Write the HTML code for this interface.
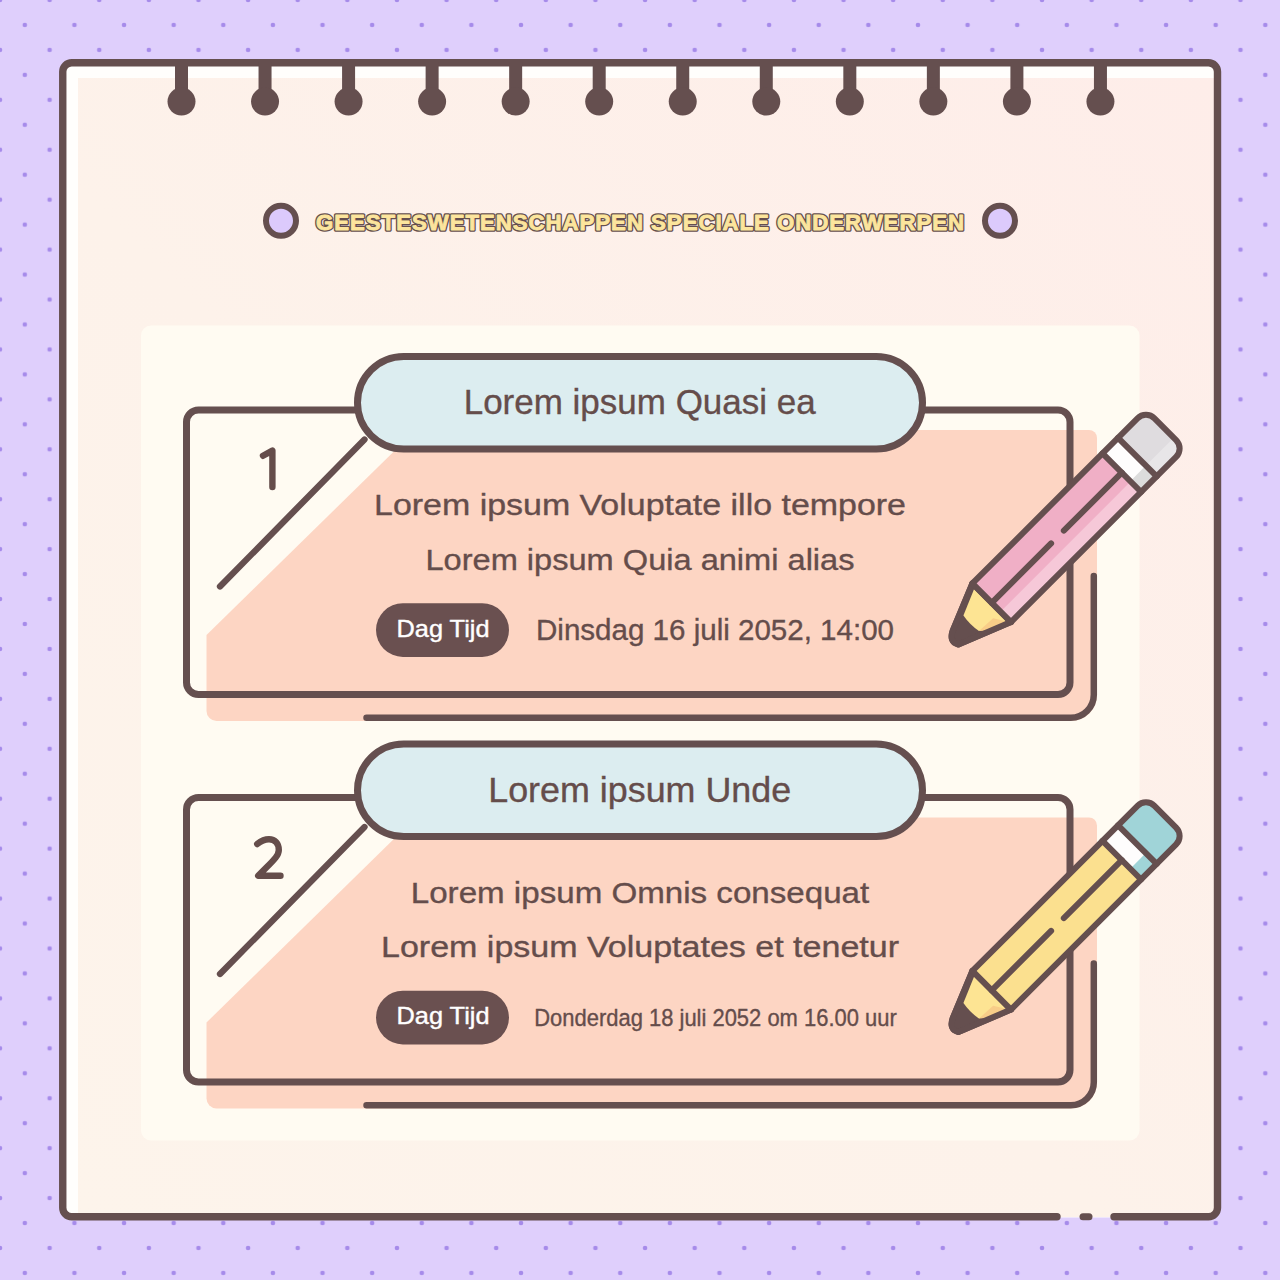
<!DOCTYPE html>
<html><head><meta charset="utf-8"><style>
html,body{margin:0;padding:0;width:1280px;height:1280px;overflow:hidden;background:#dfcffc;}
svg{display:block;font-family:"Liberation Sans",sans-serif;}
</style></head><body>
<svg width="1280" height="1280" viewBox="0 0 1280 1280">
<defs>
<pattern id="dots" patternUnits="userSpaceOnUse" width="49.62" height="49.92">
<circle cx="0" cy="0" r="2.3" fill="#a68bea"/><circle cx="49.62" cy="0" r="2.3" fill="#a68bea"/>
<circle cx="0" cy="49.92" r="2.3" fill="#a68bea"/><circle cx="49.62" cy="49.92" r="2.3" fill="#a68bea"/>
<circle cx="24.81" cy="24.96" r="2.3" fill="#a68bea"/>
</pattern>
<linearGradient id="paper" x1="0" y1="1" x2="1" y2="0"><stop offset="0" stop-color="#fdf4eb"/><stop offset="0.45" stop-color="#fdf2ea"/><stop offset="1" stop-color="#feede9"/></linearGradient>
</defs>
<rect width="1280" height="1280" fill="#dfcffc"/>
<rect width="1280" height="1280" fill="url(#dots)"/>
<rect x="62.5" y="62.5" width="1155" height="1155" rx="9" fill="#fffefc"/>
<rect x="78" y="78" width="1139" height="1139" fill="url(#paper)"/>
<path d="M 1057 1216.8 H 71.75 A 9 9 0 0 1 62.75 1207.8 V 71.75 A 9 9 0 0 1 71.75 62.75 H 1208.5 A 9 9 0 0 1 1217.5 71.75 V 1207.8 A 9 9 0 0 1 1208.5 1216.8 H 1114" fill="none" stroke="#654f4f" stroke-width="7.4" stroke-linecap="round"/>
<path d="M 1083 1216.8 H 1089" stroke="#654f4f" stroke-width="7" stroke-linecap="round"/>
<g fill="#654f4f"><rect x="175.00" y="62" width="13" height="40"/><circle cx="181.50" cy="101.6" r="14"/><rect x="258.54" y="62" width="13" height="40"/><circle cx="265.04" cy="101.6" r="14"/><rect x="342.08" y="62" width="13" height="40"/><circle cx="348.58" cy="101.6" r="14"/><rect x="425.62" y="62" width="13" height="40"/><circle cx="432.12" cy="101.6" r="14"/><rect x="509.16" y="62" width="13" height="40"/><circle cx="515.66" cy="101.6" r="14"/><rect x="592.70" y="62" width="13" height="40"/><circle cx="599.20" cy="101.6" r="14"/><rect x="676.24" y="62" width="13" height="40"/><circle cx="682.74" cy="101.6" r="14"/><rect x="759.78" y="62" width="13" height="40"/><circle cx="766.28" cy="101.6" r="14"/><rect x="843.32" y="62" width="13" height="40"/><circle cx="849.82" cy="101.6" r="14"/><rect x="926.86" y="62" width="13" height="40"/><circle cx="933.36" cy="101.6" r="14"/><rect x="1010.40" y="62" width="13" height="40"/><circle cx="1016.90" cy="101.6" r="14"/><rect x="1093.94" y="62" width="13" height="40"/><circle cx="1100.44" cy="101.6" r="14"/></g>
<circle cx="281" cy="220.8" r="15" fill="#dccafc" stroke="#654f4f" stroke-width="6"/>
<circle cx="1000" cy="220.8" r="15" fill="#dccafc" stroke="#654f4f" stroke-width="6"/>
<text id="title0" x="640" y="229.6" font-size="22.2" text-anchor="middle" fill="#fce59d" textLength="648" lengthAdjust="spacing" font-weight="bold" stroke="#654f4f" stroke-width="3.6" stroke-linejoin="round">GEESTESWETENSCHAPPEN SPECIALE ONDERWERPEN</text>
<text id="title" x="640" y="229.6" font-size="22.2" text-anchor="middle" fill="#fce59d" textLength="648" lengthAdjust="spacing" font-weight="bold" stroke="#fce59d" stroke-width="0.9" stroke-linejoin="round">GEESTESWETENSCHAPPEN SPECIALE ONDERWERPEN</text>
<rect x="141" y="325.5" width="998.5" height="815" rx="10" fill="#fffbf2"/>
<g transform="translate(0 0)">
<path d="M 206.5 635 L 415.8 430 H 1089 A 8 8 0 0 1 1097 438 V 695 A 26 26 0 0 1 1071 721 H 216.5 A 10 10 0 0 1 206.5 711 Z" fill="#fdd5c3"/>
<rect x="186.5" y="410" width="883.5" height="284.5" rx="12" fill="none" stroke="#654f4f" stroke-width="7"/>
<path d="M 366.5 717.8 H 1070.8 A 23 23 0 0 0 1093.8 694.8 V 576" fill="none" stroke="#654f4f" stroke-width="6.5" stroke-linecap="round"/>
<path d="M 220 586.5 L 364.5 439.5" fill="none" stroke="#654f4f" stroke-width="6.3" stroke-linecap="round"/>
<rect x="357.5" y="356.5" width="565" height="92.5" rx="46.25" fill="#dcedf0" stroke="#654f4f" stroke-width="7"/>
<path id="n1" d="M 263 455.8 L 272.4 450.6 V 487" fill="none" stroke="#654d4b" stroke-width="6.4" stroke-linecap="round" stroke-linejoin="round"/>
<text id="p1" x="639.7" y="414.2" font-size="35" text-anchor="middle" fill="#654d4b" stroke="#654d4b" stroke-width="0.35" textLength="352" lengthAdjust="spacingAndGlyphs">Lorem ipsum Quasi ea</text>
<text id="a1" x="640" y="515" font-size="30" text-anchor="middle" fill="#654d4b" stroke="#654d4b" stroke-width="0.35" textLength="532" lengthAdjust="spacingAndGlyphs">Lorem ipsum Voluptate illo tempore</text>
<text id="b1" x="640" y="569.7" font-size="30" text-anchor="middle" fill="#654d4b" stroke="#654d4b" stroke-width="0.35" textLength="429" lengthAdjust="spacingAndGlyphs">Lorem ipsum Quia animi alias</text>
<rect x="376" y="603.3" width="133" height="53.6" rx="26.8" fill="#6a5050"/>
<text id="d1" x="443" y="636.6" font-size="24.5" text-anchor="middle" fill="#ffffff" stroke="#ffffff" stroke-width="0.4" textLength="93" lengthAdjust="spacingAndGlyphs">Dag Tijd</text>
<text id="t1" x="715" y="639.8" font-size="29" text-anchor="middle" fill="#654d4b" stroke="#654d4b" stroke-width="0.35" textLength="358" lengthAdjust="spacingAndGlyphs">Dinsdag 16 juli 2052, 14:00</text>
<g transform="translate(991.7 602.8) rotate(-45)">
<path d="M 0 -27.3 L -47 -8 Q -58 -3 -53 6 L 0 27.3 Z" fill="#654f4f" stroke="#654f4f" stroke-width="6" stroke-linejoin="round"/>
<path d="M -3 -22 L -29 -11 Q -31 0 -29 11 L -3 23 Z" fill="#fde493"/>
<path d="M -10 12 L -29 11 L -20 19 L -3 23 Z" fill="#f8cd88"/>
<rect x="0" y="-27.3" width="184" height="54.6" fill="#f0afc6"/>
<rect x="0" y="12.5" width="184" height="14.8" fill="#f6c8d8"/>
<rect x="184" y="-27.3" width="22" height="54.6" fill="#fefdfd"/>
<rect x="184" y="12" width="22" height="15.3" fill="#dcdcdc"/>
<path d="M 206 -27.3 H 233.5 A 12 12 0 0 1 245.5 -15.3 V 15.3 A 12 12 0 0 1 233.5 27.3 H 206 Z" fill="#dfdcdf"/>
<path d="M 206 12 H 245.5 V 15.3 A 12 12 0 0 1 233.5 27.3 H 206 Z" fill="#e8e6e8"/>
<g fill="none" stroke="#654f4f" stroke-width="6" stroke-linejoin="round" stroke-linecap="round">
<path d="M 0 -27.3 H 233.5 A 12 12 0 0 1 245.5 -15.3 V 15.3 A 12 12 0 0 1 233.5 27.3 H 0 L -53 6 Q -58 -3 -47 -8 Z"/>
<path d="M 0 -27.3 V 27.3 M 184 -27.3 V 27.3 M 206 -27.3 V 27.3"/>
<path d="M 0 0 H 84 M 102 0 H 184"/>
</g></g>
</g>
<g transform="translate(0 387.5)">
<path d="M 206.5 635 L 415.8 430 H 1089 A 8 8 0 0 1 1097 438 V 695 A 26 26 0 0 1 1071 721 H 216.5 A 10 10 0 0 1 206.5 711 Z" fill="#fdd5c3"/>
<rect x="186.5" y="410" width="883.5" height="284.5" rx="12" fill="none" stroke="#654f4f" stroke-width="7"/>
<path d="M 366.5 717.8 H 1070.8 A 23 23 0 0 0 1093.8 694.8 V 576" fill="none" stroke="#654f4f" stroke-width="6.5" stroke-linecap="round"/>
<path d="M 220 586.5 L 364.5 439.5" fill="none" stroke="#654f4f" stroke-width="6.3" stroke-linecap="round"/>
<rect x="357.5" y="356.5" width="565" height="92.5" rx="46.25" fill="#dcedf0" stroke="#654f4f" stroke-width="7"/>
<path id="n2" d="M 257.2 456.5 C 261 453.5 265 451.7 269 451.7 C 275 451.7 278.8 456 278.8 462.4 C 278.8 469 272 474 258.2 488.3 H 280.5" fill="none" stroke="#654d4b" stroke-width="6.4" stroke-linecap="round" stroke-linejoin="round"/>
<text id="p2" x="639.7" y="414.2" font-size="35" text-anchor="middle" fill="#654d4b" stroke="#654d4b" stroke-width="0.35" textLength="303" lengthAdjust="spacingAndGlyphs">Lorem ipsum Unde</text>
<text id="a2" x="640" y="515" font-size="30" text-anchor="middle" fill="#654d4b" stroke="#654d4b" stroke-width="0.35" textLength="458.5" lengthAdjust="spacingAndGlyphs">Lorem ipsum Omnis consequat</text>
<text id="b2" x="640" y="569.7" font-size="30" text-anchor="middle" fill="#654d4b" stroke="#654d4b" stroke-width="0.35" textLength="518" lengthAdjust="spacingAndGlyphs">Lorem ipsum Voluptates et tenetur</text>
<rect x="376" y="603.3" width="133" height="53.6" rx="26.8" fill="#6a5050"/>
<text id="d2" x="443" y="636.6" font-size="24.5" text-anchor="middle" fill="#ffffff" stroke="#ffffff" stroke-width="0.4" textLength="93" lengthAdjust="spacingAndGlyphs">Dag Tijd</text>
<text id="t2" x="715.5" y="638" font-size="23.7" text-anchor="middle" fill="#654d4b" stroke="#654d4b" stroke-width="0.35" textLength="362.5" lengthAdjust="spacingAndGlyphs">Donderdag 18 juli 2052 om 16.00 uur</text>
<g transform="translate(991.7 602.8) rotate(-45)">
<path d="M 0 -27.3 L -47 -8 Q -58 -3 -53 6 L 0 27.3 Z" fill="#654f4f" stroke="#654f4f" stroke-width="6" stroke-linejoin="round"/>
<path d="M -3 -22 L -29 -11 Q -31 0 -29 11 L -3 23 Z" fill="#fde493"/>
<path d="M -10 12 L -29 11 L -20 19 L -3 23 Z" fill="#f8cd88"/>
<rect x="0" y="-27.3" width="184" height="54.6" fill="#fbe08f"/>
<rect x="0" y="12.5" width="184" height="14.8" fill="#fbe08f"/>
<rect x="184" y="-27.3" width="22" height="54.6" fill="#fefdfd"/>
<rect x="184" y="12" width="22" height="15.3" fill="#a0d4d8"/>
<path d="M 206 -27.3 H 233.5 A 12 12 0 0 1 245.5 -15.3 V 15.3 A 12 12 0 0 1 233.5 27.3 H 206 Z" fill="#a0d4d8"/>
<path d="M 206 12 H 245.5 V 15.3 A 12 12 0 0 1 233.5 27.3 H 206 Z" fill="#a0d4d8"/>
<g fill="none" stroke="#654f4f" stroke-width="6" stroke-linejoin="round" stroke-linecap="round">
<path d="M 0 -27.3 H 233.5 A 12 12 0 0 1 245.5 -15.3 V 15.3 A 12 12 0 0 1 233.5 27.3 H 0 L -53 6 Q -58 -3 -47 -8 Z"/>
<path d="M 0 -27.3 V 27.3 M 184 -27.3 V 27.3 M 206 -27.3 V 27.3"/>
<path d="M 0 0 H 84 M 102 0 H 184"/>
</g></g>
</g>
</svg>
</body></html>
